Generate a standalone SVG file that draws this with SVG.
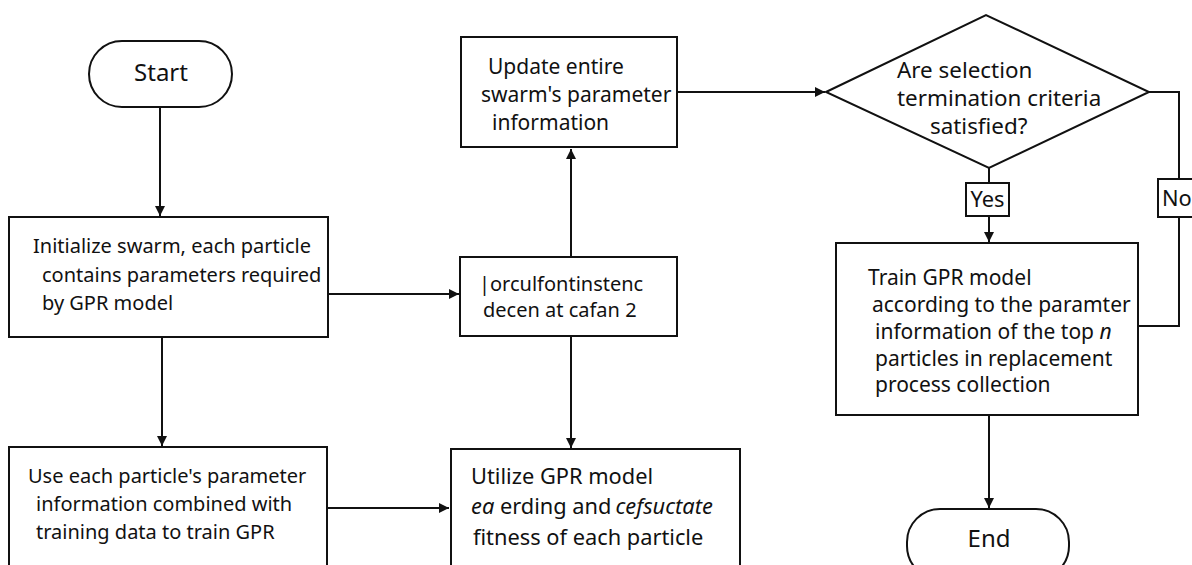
<svg xmlns="http://www.w3.org/2000/svg" width="1192" height="565" viewBox="0 0 1192 565">
<defs>
<marker id="ah" viewBox="0 0 10 10" refX="10" refY="5" markerWidth="10" markerHeight="10" markerUnits="userSpaceOnUse" orient="auto">
<path d="M0,0 L10,5 L0,10 Z" fill="#111"/>
</marker>
<style>
.box{fill:#fff;stroke:#111;stroke-width:2}
.t{font-family:"Noto Sans","Open Sans",sans-serif;font-size:20px;fill:#111}
.s21{font-size:21px}
.s22{font-size:21.8px}
.s23{font-size:22.4px}
.s24{font-size:24px}
.it{font-style:italic}
.c{fill:none;stroke:#111;stroke-width:2}
</style>
</defs>
<rect width="1192" height="565" fill="#fff"/>
<g id="connectors">
<path class="c" d="M160,107 V216" marker-end="url(#ah)"/>
<path class="c" d="M162,337 V446" marker-end="url(#ah)"/>
<path class="c" d="M327,508 H449" marker-end="url(#ah)"/>
<path class="c" d="M328,294 H459" marker-end="url(#ah)"/>
<path class="c" d="M571,257 V149" marker-end="url(#ah)"/>
<path class="c" d="M571,336 V448" marker-end="url(#ah)"/>
<path class="c" d="M677,92 H825" marker-end="url(#ah)"/>
<path class="c" d="M989,168 V183"/>
<path class="c" d="M989,216 V242" marker-end="url(#ah)"/>
<path class="c" d="M1149,92 H1179 V179"/>
<path class="c" d="M1179,217 V326 H1138"/>
<path class="c" d="M989,415 V508" marker-end="url(#ah)"/>
</g>
<g id="start">
<rect class="box" x="89" y="41" width="143" height="66" rx="33" ry="33"/>
<text class="t s24" x="161" y="81" text-anchor="middle">Start</text>
</g>
<g id="init">
<rect class="box" x="9" y="217" width="319" height="120"/>
<text class="t" x="33" y="253">Initialize swarm, each particle</text>
<text class="t" x="42" y="282">contains parameters required</text>
<text class="t" x="42" y="310">by GPR model</text>
</g>
<g id="use">
<rect class="box" x="9" y="447" width="318" height="130"/>
<text class="t" x="28" y="483">Use each particle's parameter</text>
<text class="t" x="36" y="511">information combined with</text>
<text class="t" x="36" y="539">training data to train GPR</text>
</g>
<g id="middle">
<rect class="box" x="460" y="257" width="217" height="79"/>
<text class="t" x="479" y="291">|orculfontinstenc</text>
<text class="t" x="483" y="317">decen at cafan 2</text>
</g>
<g id="update">
<rect class="box" x="461" y="37" width="216" height="110"/>
<text class="t s21" x="488" y="74">Update entire</text>
<text class="t s21" x="481" y="102">swarm's parameter</text>
<text class="t s21" x="492" y="130">information</text>
</g>
<g id="utilize">
<rect class="box" x="451" y="449" width="289" height="130"/>
<text class="t s22" x="471" y="484">Utilize GPR model</text>
<text class="t s22" x="471" y="514"><tspan class="it">ea</tspan> erding and<tspan class="it" dx="4">cefsuctate</tspan></text>
<text class="t s22" x="473" y="545">fitness of each particle</text>
</g>
<g id="decision">
<polygon class="box" points="826,92 986,15 1149,92 989,168"/>
<text class="t s23" x="897" y="78">Are selection</text>
<text class="t s23" x="897" y="106">termination  criteria</text>
<text class="t s23" x="930" y="134">satisfied?</text>
</g>
<g id="yes">
<rect class="box" x="966" y="183" width="43" height="33"/>
<text class="t s22" x="987.5" y="207" text-anchor="middle">Yes</text>
</g>
<g id="no">
<rect class="box" x="1158" y="179" width="40" height="38"/>
<text class="t s22" x="1162" y="206">No</text>
</g>
<g id="train">
<rect class="box" x="836" y="243" width="302" height="172"/>
<text class="t s21" x="868" y="285">Train GPR model</text>
<text class="t s21" x="872" y="312">according to the paramter</text>
<text class="t s21" x="875" y="339">information of the top <tspan class="it">n</tspan></text>
<text class="t s21" x="875" y="366">particles in replacement</text>
<text class="t s21" x="875" y="392">process collection</text>
</g>
<g id="end">
<rect class="box" x="907" y="509" width="162" height="70" rx="33" ry="33"/>
<text class="t s24" x="989" y="547" text-anchor="middle">End</text>
</g>
</svg>
